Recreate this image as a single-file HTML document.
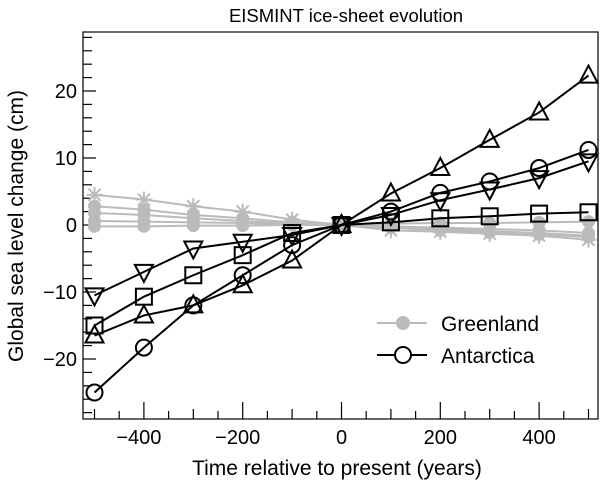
<!DOCTYPE html>
<html><head><meta charset="utf-8"><style>
html,body{margin:0;padding:0;background:#fff;}
svg{display:block;font-family:"Liberation Sans",Arial,sans-serif;}
</style></head><body>
<svg id="chart" width="600" height="481" viewBox="0 0 600 481">
<text x="346" y="22" text-anchor="middle" font-size="18.5">EISMINT ice-sheet evolution</text>
<g id="axes"></g>
<g id="series"></g>
<rect x="83" y="32" width="515" height="387" fill="none" stroke="#000" stroke-width="1.2"/>
<text x="337" y="475" text-anchor="middle" font-size="21">Time relative to present (years)</text>
<text transform="translate(23,226) rotate(-90)" text-anchor="middle" font-size="21">Global sea level change  (cm)</text>
<g>
<line x1="377" y1="323" x2="427" y2="323" stroke="#bbb" stroke-width="2"/>
<circle cx="403" cy="323" r="7" fill="#bbb"/>
<text x="441" y="331" font-size="21">Greenland</text>
<line x1="377" y1="355" x2="427" y2="355" stroke="#000" stroke-width="2"/>
<circle cx="403" cy="355" r="8" fill="#fff" stroke="#000" stroke-width="2"/>
<text x="441" y="363" font-size="21">Antarctica</text>
</g>
</svg>
<script>
const years = [-500,-400,-300,-200,-100,0,100,200,300,400,500];
const xTicks = [-400,-200,0,200,400];
const yTicks = [-20,-10,0,10,20];
const greenStar = [4.5,3.8,2.8,2,0.8,0,-0.8,-1,-1.3,-1.6,-2.2];
const greenA = [2.8,2.3,1.5,1,0.4,0,-0.4,-0.8,-1.1,-1.4,-1.8];
const greenB = [1.8,1.5,1,0.6,0.2,0,-0.3,-0.6,-0.9,-1.2,-1.6];
const greenC = [0.6,0.5,0.4,0.3,0.1,0,-0.2,-0.4,-0.6,-0.8,-1.2];
const greenD = [-0.2,-0.2,-0.1,-0.1,0,0,0.2,0.3,0.3,0.4,0.5];
const antUp = [-16.5,-13.5,-12,-9,-5.3,0,4.7,8.5,12.7,16.8,22.3];
const antCircle = [-25,-18.3,-12,-7.5,-3,0,2,4.8,6.5,8.5,11.2];
const antDown = [-10.5,-7,-3.5,-2.5,-1.5,0,1.5,3.7,5.3,7,9.5];
const antSquare = [-15,-10.7,-7.5,-4.5,-1.2,0,0.4,1,1.3,1.7,1.9];
const NS='http://www.w3.org/2000/svg';
const X=v=>341.5+v*0.494, Y=v=>225-v*6.7;
function mk(t,a,p){const e=document.createElementNS(NS,t);for(const k in a)e.setAttribute(k,a[k]);p.appendChild(e);return e;}
const ax=document.getElementById('axes'), sg=document.getElementById('series');
for(let v=-500;v<=500;v+=50){const major=v%200===0;const l=mk('line',{x1:X(v),x2:X(v),y1:419,y2:419-(major?17:(v%100===0?10:8)),stroke:'#000','stroke-width':1.2},ax);

}
xTicks.forEach(v=>{const t=mk('text',{x:X(v)-(v<0?5:0),y:444,'text-anchor':'middle','font-size':20},ax);t.textContent=(v<0?'\u2212':'')+Math.abs(v);

});
for(let v=-28;v<=28;v+=2){const y=Y(v);if(y<33||y>418)continue;const major=v%10===0;const l=mk('line',{x1:83,x2:83+(major?13:9),y1:y,y2:y,stroke:'#000','stroke-width':1.2},ax);

}
yTicks.forEach(v=>{const t=mk('text',{x:77,y:Y(v)+7,'text-anchor':'end','font-size':20},ax);t.textContent=(v<0?'\u2212':'')+Math.abs(v);

});
function series(vals,color,marker,name){
 const g=mk('g',{},sg);
 
 
 mk('polyline',{points:vals.map((v,i)=>X(years[i])+','+Y(v)).join(' '),fill:'none',stroke:color,'stroke-width':2},g);
 vals.forEach((v,i)=>{const x=X(years[i]),y=Y(v);let m;
  if(marker==='fcircle')m=mk('circle',{cx:x,cy:y,r:6.5,fill:color},g);
  else if(marker==='star'){m=mk('path',{d:`M${x-8},${y}H${x+8}M${x},${y-8}V${y+8}M${x-6},${y-6}L${x+6},${y+6}M${x-6},${y+6}L${x+6},${y-6}`,stroke:color,'stroke-width':2},g);}
  else if(marker==='circle')m=mk('circle',{cx:x,cy:y,r:8,fill:'none',stroke:color,'stroke-width':2},g);
  else if(marker==='square')m=mk('rect',{x:x-8,y:y-8,width:16,height:16,fill:'none',stroke:color,'stroke-width':2},g);
  else if(marker==='up')m=mk('polygon',{points:`${x},${y-10} ${x-9},${y+7} ${x+9},${y+7}`,fill:'none',stroke:color,'stroke-width':2},g);
  else m=mk('polygon',{points:`${x},${y+10} ${x-9},${y-7} ${x+9},${y-7}`,fill:'none',stroke:color,'stroke-width':2},g);
  
  });
}
const G='#bbb';
series(greenStar,G,'star','greenland-star');
series(greenA,G,'fcircle','greenland-a');
series(greenB,G,'fcircle','greenland-b');
series(greenC,G,'fcircle','greenland-c');
series(greenD,G,'fcircle','greenland-d');
series(antUp,'#000','up','antarctica-triangle-up');
series(antCircle,'#000','circle','antarctica-circle');
series(antDown,'#000','down','antarctica-triangle-down');
series(antSquare,'#000','square','antarctica-square');
</script>
</body></html>
